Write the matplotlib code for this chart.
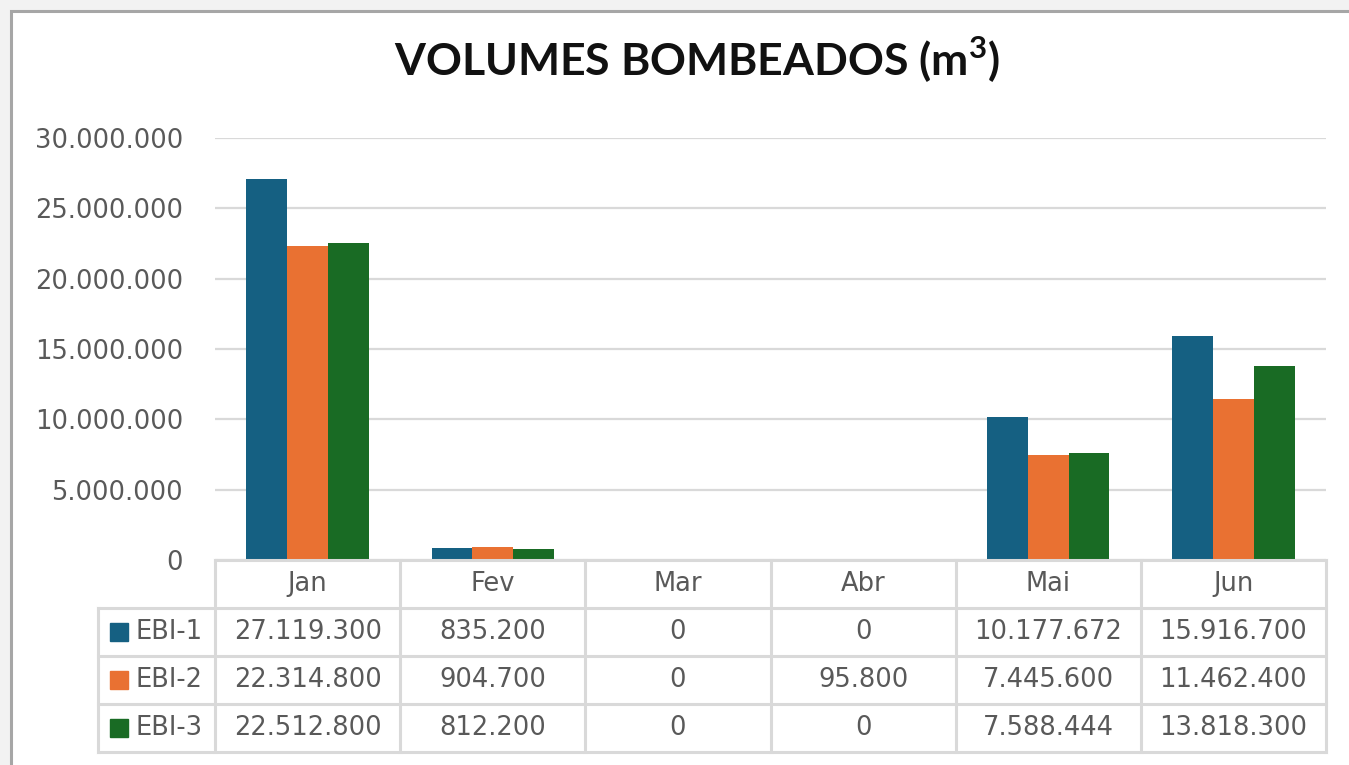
import numpy as np
import matplotlib
matplotlib.use("Agg")
import matplotlib.pyplot as plt
from matplotlib.patches import Rectangle

# data
months = ["Jan", "Fev", "Mar", "Abr", "Mai", "Jun"]
series = ["EBI-1", "EBI-2", "EBI-3"]
ebi1 = [27119300, 835200, 0, 0, 10177672, 15916700]
ebi2 = [22314800, 904700, 0, 95800, 7445600, 11462400]
ebi3 = [22512800, 812200, 0, 0, 7588444, 13818300]
y_ticks = [0, 5000000, 10000000, 15000000, 20000000, 25000000, 30000000]

colors = ["#156082", "#E97132", "#196B24"]
GRAY_TXT = "#595959"
GRID = "#d9d9d9"
W, H = 1349, 765

plt.rcParams["mathtext.fontset"] = "custom"
plt.rcParams["mathtext.rm"] = "Lato:bold"
plt.rcParams["mathtext.bf"] = "Lato:bold"


def fmt_pt(v):
    # thousands separated by dots, Portuguese style
    return f"{int(v):,}".replace(",", ".")


def px(x0, y0, x1, y1):
    # pixel box (top-left origin) -> figure fraction rect
    return [x0 / W, 1 - y1 / H, (x1 - x0) / W, (y1 - y0) / H]


fig = plt.figure(figsize=(W / 100, H / 100), dpi=100)
fig.patch.set_facecolor("#f2f2f2")

# chart area frame
fig.patches.append(Rectangle((11 / W, -0.1), 1.2, 1 - 11 / H + 0.1,
                             transform=fig.transFigure, facecolor="white",
                             edgecolor="#a6a6a6", lw=2.2, zorder=-5))

fig.text(697 / W, 1 - 60 / H, r"VOLUMES BOMBEADOS (m$^{\mathbf{3}}$)", ha="center", va="center",
         fontsize=32, fontweight="bold", family=["Lato", "DejaVu Sans"], color="#111111")

# bar chart
ax = fig.add_axes(px(215, 138, 1326, 560))
ax.set_facecolor("none")
x = np.arange(len(months)) + 0.5
bw = 0.22
for k, (vals, c) in enumerate(zip([ebi1, ebi2, ebi3], colors)):
    ax.bar(x + (k - 1) * bw, vals, width=bw, color=c, zorder=3)
ax.set_xlim(0, len(months))
ax.set_ylim(0, 30000000)
ax.set_yticks(y_ticks)
ax.set_yticklabels([fmt_pt(v) for v in y_ticks], fontsize=18.5, color=GRAY_TXT)
ax.tick_params(axis="y", length=0, pad=23)
ax.set_xticks([])
ax.grid(axis="y", color=GRID, lw=1.6, zorder=0)
for s in ax.spines.values():
    s.set_visible(False)

# data table underneath
tax = fig.add_axes(px(98, 560, 1326, 752))
tax.set_facecolor("none")
lc = -117 / 185  # width of the legend column in category units
tax.set_xlim(lc, len(months))
tax.set_ylim(4, 0)
tax.axis("off")

kw = dict(color=GRID, lw=2.2, solid_capstyle="projecting", clip_on=False)
tax.plot([0, len(months)], [0, 0], **kw)
for r in range(1, 5):
    tax.plot([lc, len(months)], [r, r], **kw)
for cidx in range(len(months) + 1):
    tax.plot([cidx, cidx], [0, 4], **kw)
tax.plot([lc, lc], [1, 4], **kw)

for i, m in enumerate(months):
    tax.text(i + 0.5, 0.5, m, ha="center", va="center", fontsize=18.5, color=GRAY_TXT)

for r, (name, vals, c) in enumerate(zip(series, [ebi1, ebi2, ebi3], colors)):
    yc = r + 1.5
    tax.plot([-0.519], [yc], marker="s", ms=12.5, color=c, clip_on=False)
    tax.text(-0.43, yc, name, ha="left", va="center", fontsize=18.5, color=GRAY_TXT)
    for i, v in enumerate(vals):
        tax.text(i + 0.5, yc, fmt_pt(v), ha="center", va="center",
                 fontsize=18.5, color=GRAY_TXT)

fig.savefig("out.png", dpi=100, facecolor=fig.get_facecolor())
